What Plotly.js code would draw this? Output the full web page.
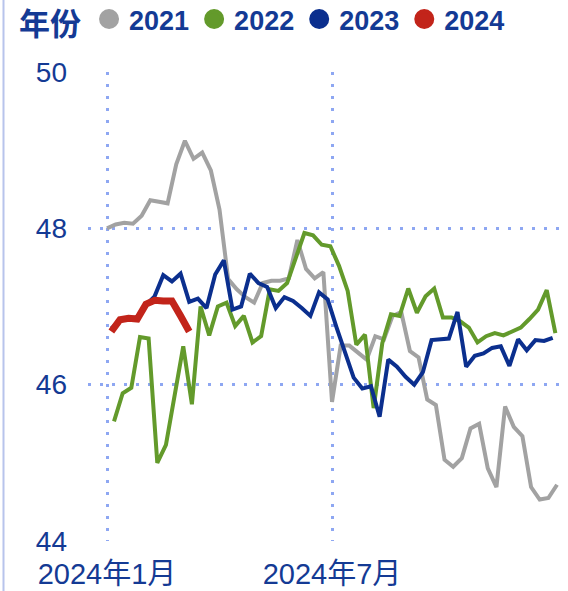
<!DOCTYPE html>
<html>
<head>
<meta charset="utf-8">
<script src="https://cdn.plot.ly/plotly-3.0.1.min.js"></script>
<style>
  html, body { margin: 0; padding: 0; background: #ffffff; }
  #chart { width: 568px; height: 591px; }
</style>
</head>
<body>
<div id="chart"></div>
<script>
// ---- data (weekly readings, plotted on a 2024 calendar axis) ----
const seriesNames = ['2021', '2022', '2023', '2024'];
const seriesColors = ['#a2a2a2', '#639a2b', '#0b2f8e', '#c2241a'];
const seriesStart = ['2024-01-01 00:00', '2024-01-06 16:00', '2024-01-04 12:00', '2024-01-04 12:00'];

const values2021 = [48.00,48.05,48.07,48.06,48.16,48.36,48.34,48.32,48.82,49.12,
                    48.89,48.97,48.74,48.24,47.35,47.22,47.12,47.05,47.30,47.33,
                    47.33,47.36,47.85,47.48,47.36,47.44,45.78,46.50,46.50,46.41,
                    46.32,46.62,46.58,46.88,46.93,46.43,46.35,45.81,45.74,45.04,
                    44.95,45.06,45.44,45.50,44.93,44.69,45.72,45.46,45.34,44.69,
                    44.53,44.55,44.72];
const values2022 = [45.53,45.89,45.96,46.61,46.59,45.00,45.23,45.85,46.49,45.75,
                    47.00,46.63,47.00,47.05,46.75,46.88,46.54,46.62,47.22,47.20,
                    47.30,47.62,47.94,47.91,47.79,47.77,47.52,47.20,46.51,46.64,
                    45.70,46.53,46.90,46.88,47.23,46.92,47.13,47.23,46.86,46.86,
                    46.81,46.73,46.54,46.62,46.66,46.63,46.68,46.73,46.84,46.96,
                    47.21,46.66];
const values2023 = [46.72,46.82,46.85,46.86,47.02,47.13,47.40,47.32,47.42,47.06,
                    47.10,46.98,47.41,47.59,46.96,47.00,47.42,47.30,47.25,46.98,
                    47.12,47.07,46.98,46.88,47.18,47.09,46.74,46.40,46.09,45.95,
                    45.98,45.59,46.32,46.23,46.10,46.00,46.16,46.57,46.58,46.59,
                    46.93,46.23,46.37,46.40,46.47,46.49,46.24,46.58,46.44,46.57,
                    46.56,46.60];
const values2024 = [46.68,46.83,46.85,46.84,47.03,47.08,47.07,47.07,46.88,46.68];

const xTickVals = ['2024-01-01', '2024-07-01'];
const xTickText = ['2024年1月', '2024年7月'];
const yTickVals = [44, 46, 48, 50];
const yTickText = ['44', '46', '48', '50'];

// weekly date axis for each series
function weekly(start, n) {
  const t0 = new Date(start.replace(' ', 'T') + ':00Z').getTime();
  const out = [];
  for (let i = 0; i < n; i++) {
    out.push(new Date(t0 + i * 7 * 86400000).toISOString().slice(0, 16).replace('T', ' '));
  }
  return out;
}

const allValues = [values2021, values2022, values2023, values2024];
const widths = [4, 4, 4, 7];

const FONT = '"Liberation Sans", Arial, "Noto Sans CJK SC", sans-serif';
const TXT = '#143a94';

const traces = [];
allValues.forEach((vals, k) => {
  traces.push({
    type: 'scatter', mode: 'lines',
    x: weekly(seriesStart[k], vals.length), y: vals,
    line: { color: seriesColors[k], width: widths[k] },
    showlegend: false, hoverinfo: 'skip'
  });
});
seriesNames.forEach((nm, k) => {
  traces.push({
    type: 'scatter', mode: 'markers', name: nm,
    x: [null], y: [null],
    marker: { color: seriesColors[k], size: 16, line: { color: seriesColors[k], width: 4 } },
    showlegend: true
  });
});

const grid = { gridcolor: '#8ea7f2', gridwidth: 3, griddash: '3px,9px' };

const layout = {
  width: 568, height: 591,
  margin: { l: 88, r: 0, t: 72, b: 50, pad: 0, autoexpand: false },
  paper_bgcolor: '#ffffff', plot_bgcolor: '#ffffff',
  font: { family: FONT, color: TXT },
  xaxis: Object.assign({
    type: 'date',
    range: ['2023-12-16 15:00', '2025-01-07 21:00'],
    tickmode: 'array', tickvals: xTickVals, ticktext: xTickText,
    showgrid: true, zeroline: false, showline: false, ticks: '',
    tickfont: { family: FONT, size: 29, color: TXT },
    ticklabelstandoff: 13
  }, grid),
  yaxis: Object.assign({
    range: [44, 50],
    tickmode: 'array', tickvals: yTickVals, ticktext: yTickText,
    showgrid: true, zeroline: false, showline: false, ticks: '',
    tickfont: { family: FONT, size: 28, color: TXT },
    ticklabelstandoff: 20
  }, grid),
  legend: {
    orientation: 'h',
    xref: 'container', yref: 'paper',
    x: 0.03, y: 1 + 77 / 469, xanchor: 'left', yanchor: 'top',
    bgcolor: 'rgba(0,0,0,0)',
    font: { family: FONT, size: 27, color: TXT, weight: 'bold' },
    title: { text: '年份', side: 'left', font: { family: FONT, size: 31, color: TXT, weight: 'bold' } },
    itemclick: false, itemdoubleclick: false
  },
  shapes: [{
    type: 'line', xref: 'paper', yref: 'paper',
    x0: (3.5 - 88) / 480, x1: (3.5 - 88) / 480,
    y0: -50 / 469, y1: 1 + 72 / 469,
    line: { color: '#b8c4ec', width: 2 }
  }],
  showlegend: true
};

Plotly.newPlot('chart', traces, layout, { staticPlot: true, displayModeBar: false });
</script>
</body>
</html>
